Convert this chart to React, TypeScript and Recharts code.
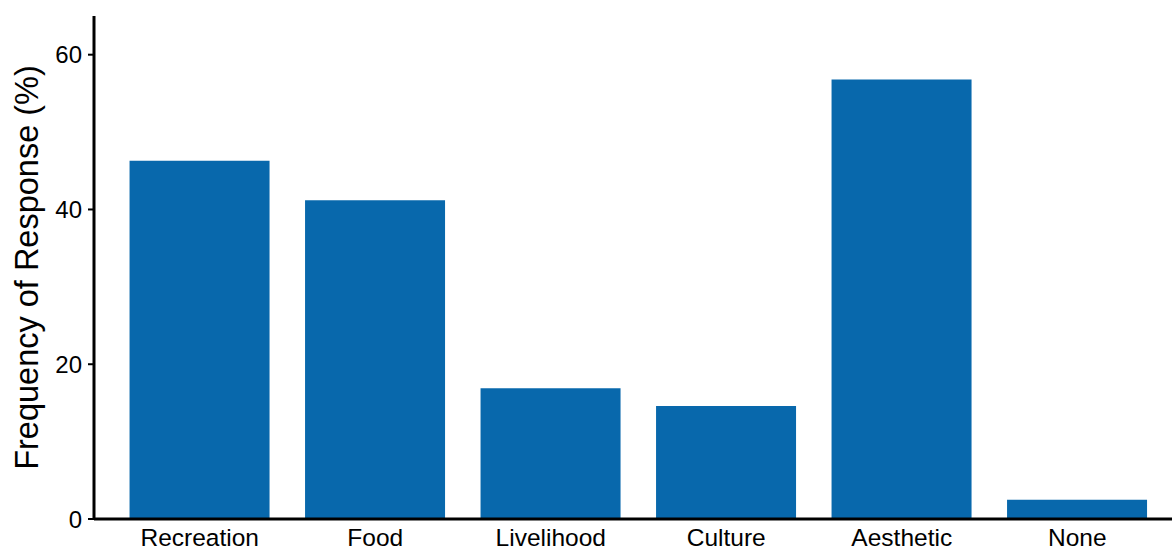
import React from 'react';
import { BarChart, Bar, XAxis, YAxis, Label } from 'recharts';

const categories = ['Recreation', 'Food', 'Livelihood', 'Culture', 'Aesthetic', 'None'];
const responses = [46.3, 41.2, 16.9, 14.6, 56.8, 2.5];
const yTicks = [0, 20, 40, 60];

const data = categories.map((name, i) => ({ name, value: responses[i] }));

const FONT = '"Liberation Sans", Arial, Helvetica, sans-serif';

export default function App() {
  return (
    <div style={{ position: 'absolute', left: 0, top: 0, width: 1172, height: 550, background: '#fff' }}>
      <BarChart
        width={1172}
        height={550}
        data={data}
        margin={{ top: 16, right: 0, left: 0, bottom: 0 }}
        barCategoryGap="10%"
      >
        <XAxis
          dataKey="name"
          height={31}
          padding={{ left: 18, right: 7 }}
          axisLine={{ stroke: '#000', strokeWidth: 3 }}
          tickLine={false}
          tickMargin={4}
          tick={{ fill: '#000', fontSize: 24.5, fontFamily: FONT }}
          interval={0}
        />
        <YAxis
          width={94}
          domain={[0, 65]}
          ticks={yTicks}
          axisLine={{ stroke: '#000', strokeWidth: 3 }}
          tickLine={{ stroke: '#000', strokeWidth: 2 }}
          tickSize={6}
          tickMargin={6}
          tick={{ fill: '#000', fontSize: 24, fontFamily: FONT }}
        >
          <Label
            value="Frequency of Response (%)"
            angle={-90}
            position="insideLeft"
            offset={26}
            style={{ textAnchor: 'middle', fill: '#000', fontSize: 32.5, fontFamily: FONT }}
          />
        </YAxis>
        <Bar dataKey="value" fill="#0868ac" isAnimationActive={false} />
      </BarChart>
    </div>
  );
}
